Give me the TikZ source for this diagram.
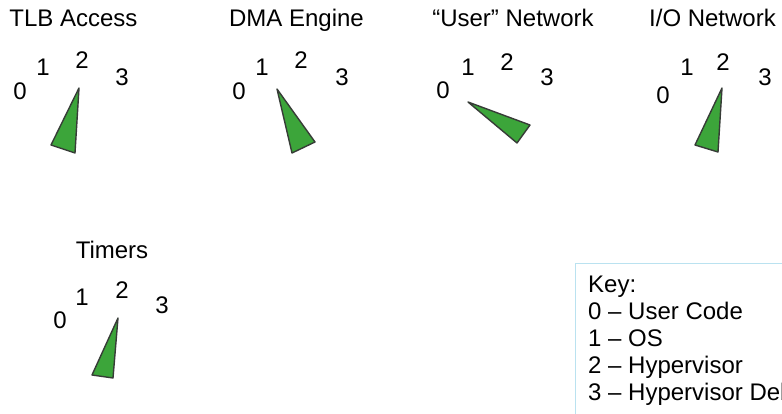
\documentclass[tikz,border=0pt]{standalone}
\usepackage{fontspec}
\setmainfont{Liberation Sans}
\begin{document}
\begin{tikzpicture}[x=1pt,y=-1pt,
  lbl/.style={inner sep=0pt,font=\fontsize{24}{27}\selectfont},
  title/.style={lbl,anchor=base},
  keyline/.style={lbl,anchor=base west},
  needle/.style={fill=needlegreen,draw=needleedge,line width=1.4pt,line join=round}]
\definecolor{needlegreen}{RGB}{60,165,58}
\definecolor{needleedge}{RGB}{55,60,55}
\definecolor{keyedge}{RGB}{186,226,240}
\clip (0,0) rectangle (782,413);
\fill[white] (0,0) rectangle (782,413);

% TLB Access
\node[title] (t1) at (73.5,26) {TLB Access};
\node[lbl] (t1a) at (20,91) {0};
\node[lbl] (t1b) at (43,67) {1};
\node[lbl] (t1c) at (82,60) {2};
\node[lbl] (t1d) at (122,77) {3};
\coordinate (p1) at (79,88);
\coordinate (q1) at (51,145);
\coordinate (r1) at (75,153);
\draw[needle] (p1) -- (q1) -- (r1) -- cycle;

% DMA Engine
\node[title] (t2) at (296.5,26) {DMA Engine};
\node[lbl] (t2a) at (239,91) {0};
\node[lbl] (t2b) at (262,67) {1};
\node[lbl] (t2c) at (301,60) {2};
\node[lbl] (t2d) at (342,77) {3};
\coordinate (p2) at (277,89);
\coordinate (q2) at (292,153);
\coordinate (r2) at (315,142);
\draw[needle] (p2) -- (q2) -- (r2) -- cycle;

% "User" Network
\node[title] (t3) at (513,26) {“User” Network};
\node[lbl] (t3a) at (443,90) {0};
\node[lbl] (t3b) at (468,67) {1};
\node[lbl] (t3c) at (507,62) {2};
\node[lbl] (t3d) at (547,77) {3};
\coordinate (p3) at (468,102);
\coordinate (q3) at (530,125);
\coordinate (r3) at (517,143);
\draw[needle] (p3) -- (q3) -- (r3) -- cycle;

% I/O Network
\node[title] (t4) at (712.5,26) {I/O Network};
\node[lbl] (t4a) at (663,95) {0};
\node[lbl] (t4b) at (687,67) {1};
\node[lbl] (t4c) at (723,62) {2};
\node[lbl] (t4d) at (765,77) {3};
\coordinate (p4) at (722,88);
\coordinate (q4) at (695,145);
\coordinate (r4) at (718,152);
\draw[needle] (p4) -- (q4) -- (r4) -- cycle;

% Timers
\node[title] (t5) at (112,258) {Timers};
\node[lbl] (t5a) at (60,320) {0};
\node[lbl] (t5b) at (82,297) {1};
\node[lbl] (t5c) at (122,290) {2};
\node[lbl] (t5d) at (162,305) {3};
\coordinate (p5) at (118,318);
\coordinate (q5) at (92,375);
\coordinate (r5) at (113,378);
\draw[needle] (p5) -- (q5) -- (r5) -- cycle;

% Key
\draw[keyedge,line width=1pt] (575,263) rectangle (820,440);
\node[keyline] (k0) at (588,292) {Key:};
\node[keyline] (k1) at (588,319) {0 – User Code};
\node[keyline] (k2) at (588,346) {1 – OS};
\node[keyline] (k3) at (588,373) {2 – Hypervisor};
\node[keyline] (k4) at (588,400) {3 – Hypervisor Debug};
\end{tikzpicture}
\end{document}
